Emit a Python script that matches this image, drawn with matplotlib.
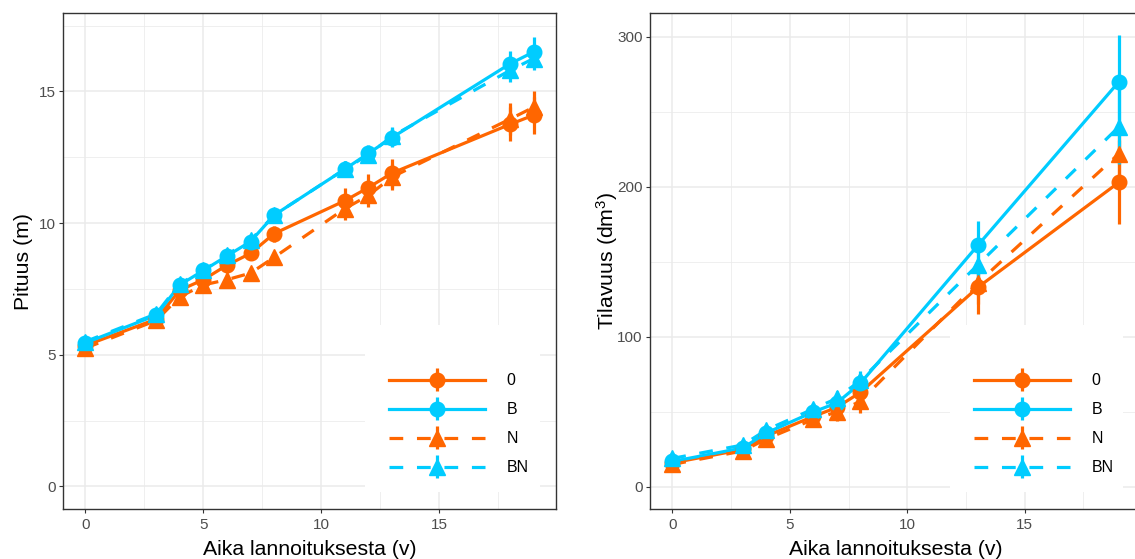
import numpy as np
import matplotlib
matplotlib.use("Agg")
import matplotlib.pyplot as plt
from matplotlib.lines import Line2D
from matplotlib.patches import Rectangle
from matplotlib.collections import LineCollection
from matplotlib.container import ErrorbarContainer
from matplotlib.legend_handler import HandlerErrorbar

plt.rcParams["font.family"] = ["Liberation Sans", "DejaVu Sans"]
plt.rcParams["mathtext.fontset"] = "custom"
plt.rcParams["mathtext.rm"] = "Liberation Sans"
plt.rcParams["mathtext.default"] = "regular"

# --- data: height (m) ---
years_h = [0, 3, 4, 5, 6, 7, 8, 11, 12, 13, 18, 19]
h_0 = [5.35, 6.35, 7.45, 7.85, 8.4, 8.85, 9.6, 10.85, 11.35, 11.9, 13.75, 14.1]
h_B = [5.45, 6.5, 7.65, 8.2, 8.75, 9.3, 10.3, 12.05, 12.65, 13.25, 16.05, 16.5]
h_N = [5.25, 6.3, 7.2, 7.65, 7.85, 8.1, 8.7, 10.55, 11.05, 11.75, 13.95, 14.4]
h_BN = [5.5, 6.55, 7.7, 8.2, 8.8, 9.35, 10.3, 12.05, 12.6, 13.3, 15.8, 16.25]
h_0_se = [0.1, 0.15, 0.2, 0.2, 0.25, 0.25, 0.3, 0.5, 0.5, 0.55, 0.65, 0.7]
h_B_se = [0.1, 0.15, 0.15, 0.2, 0.2, 0.2, 0.25, 0.3, 0.3, 0.35, 0.5, 0.55]
h_N_se = [0.1, 0.15, 0.2, 0.2, 0.25, 0.25, 0.25, 0.45, 0.45, 0.5, 0.6, 0.6]
h_BN_se = [0.1, 0.15, 0.15, 0.2, 0.2, 0.2, 0.25, 0.3, 0.3, 0.35, 0.45, 0.45]

# --- data: volume (dm3) ---
years_v = [0, 3, 4, 6, 7, 8, 13, 19]
v_0 = [16, 25, 34, 47, 53, 63, 133, 203]
v_B = [17, 26, 36, 50, 56, 69, 161, 270]
v_N = [15, 24, 32, 45, 50, 57, 136, 222]
v_BN = [19, 28, 38, 52, 59, 71, 148, 240]
v_0_se = [1, 2, 3, 4, 5, 6, 18, 28]
v_B_se = [1, 2, 3, 4, 5, 6, 16, 31]
v_N_se = [1, 2, 3, 4, 6, 8, 14, 22]
v_BN_se = [1, 2, 3, 4, 5, 6, 14, 25]

groups = ["0", "B", "N", "BN"]
colors = {"0": "#FF6600", "B": "#00CCFF", "N": "#FF6600", "BN": "#00CCFF"}
lstyles = {"0": "-", "B": "-", "N": (0, (4.3, 4.3)), "BN": (0, (4.3, 4.3))}
markers = {"0": "o", "B": "o", "N": "^", "BN": "^"}
msizes = {"0": 10.5, "B": 10.5, "N": 11.5, "BN": 11.5}
LW = 2.3

W, H = 1135, 559
fig = plt.figure(figsize=(W / 100, H / 100), dpi=100)


def px_axes(x0, x1, y0, y1):
    return fig.add_axes([x0 / W, 1 - y1 / H, (x1 - x0) / W, (y1 - y0) / H])


def legend_key(g):
    ln = Line2D([], [], color=colors[g], ls=lstyles[g], lw=LW,
                marker=markers[g], ms=msizes[g])
    bar = LineCollection([], colors=colors[g], linewidths=LW)
    return ErrorbarContainer((ln, (), (bar,)), has_xerr=False, has_yerr=True)


def draw_panel(ax, xs, series, errs, ylim, yticks, yminor, ylabel, leg_box):
    ax.set_axisbelow(True)
    for g in groups:
        ax.plot(xs, series[g], color=colors[g], ls=lstyles[g], lw=LW, zorder=2)
    for g in groups:
        ax.errorbar(xs, series[g], yerr=errs[g], fmt=markers[g], ls="none",
                    color=colors[g], ms=msizes[g], elinewidth=LW, capsize=0,
                    zorder=3)
    ax.set_xlim(-0.95, 19.95)
    ax.set_ylim(*ylim)
    ax.set_xticks([0, 5, 10, 15])
    ax.set_xticks([2.5, 7.5, 12.5, 17.5], minor=True)
    ax.set_yticks(yticks)
    ax.set_yticks(yminor, minor=True)
    ax.grid(which="major", color="#EBEBEB", lw=1.1)
    ax.grid(which="minor", color="#EBEBEB", lw=0.55)
    ax.tick_params(which="major", direction="out", length=3, width=0.8,
                   color="#333333", labelcolor="#4D4D4D", labelsize=11)
    ax.tick_params(axis="x", pad=3.5)
    ax.tick_params(axis="y", pad=2.2)
    ax.tick_params(which="minor", length=0)
    for s in ax.spines.values():
        s.set_color("#333333")
        s.set_linewidth(1.0)
    ax.set_xlabel("Aika lannoituksesta (v)", fontsize=15.3)
    ax.set_ylabel(ylabel, fontsize=15.3)
    ax.xaxis.set_label_coords(0.5, -0.063)
    ax.yaxis.set_label_coords(-0.061, 0.5)

    # white legend background like ggplot
    bx0, bx1, by0, by1 = leg_box
    ax.add_patch(Rectangle((bx0, by0), bx1 - bx0, by1 - by0,
                           transform=ax.transAxes, facecolor="white",
                           edgecolor="none", zorder=1))
    handles = [legend_key(g) for g in groups]
    ax.legend(handles, groups, loc="upper left",
              bbox_to_anchor=(bx0 + 0.049, 0.274), frameon=False,
              borderpad=0, borderaxespad=0, fontsize=11.5,
              handlelength=6.0, handletextpad=1.35, labelspacing=0.88,
              handler_map={ErrorbarContainer: HandlerErrorbar(yerr_size=0.7)})


ax1 = px_axes(63, 556, 13, 509)
draw_panel(ax1, years_h,
           {"0": h_0, "B": h_B, "N": h_N, "BN": h_BN},
           {"0": h_0_se, "B": h_B_se, "N": h_N_se, "BN": h_BN_se},
           (-0.86, 17.98), [0, 5, 10, 15], [2.5, 7.5, 12.5, 17.5],
           "Pituus (m)", (0.6126, 0.9675, 0.034, 0.371))

ax2 = px_axes(650, 1141, 13, 509)
draw_panel(ax2, years_v,
           {"0": v_0, "B": v_B, "N": v_N, "BN": v_BN},
           {"0": v_0_se, "B": v_B_se, "N": v_N_se, "BN": v_BN_se},
           (-14.7, 316), [0, 100, 200, 300], [50, 150, 250],
           r"Tilavuus (dm$^{3}$)", (0.611, 0.963, 0.034, 0.371))

fig.savefig("out.png", dpi=100)
